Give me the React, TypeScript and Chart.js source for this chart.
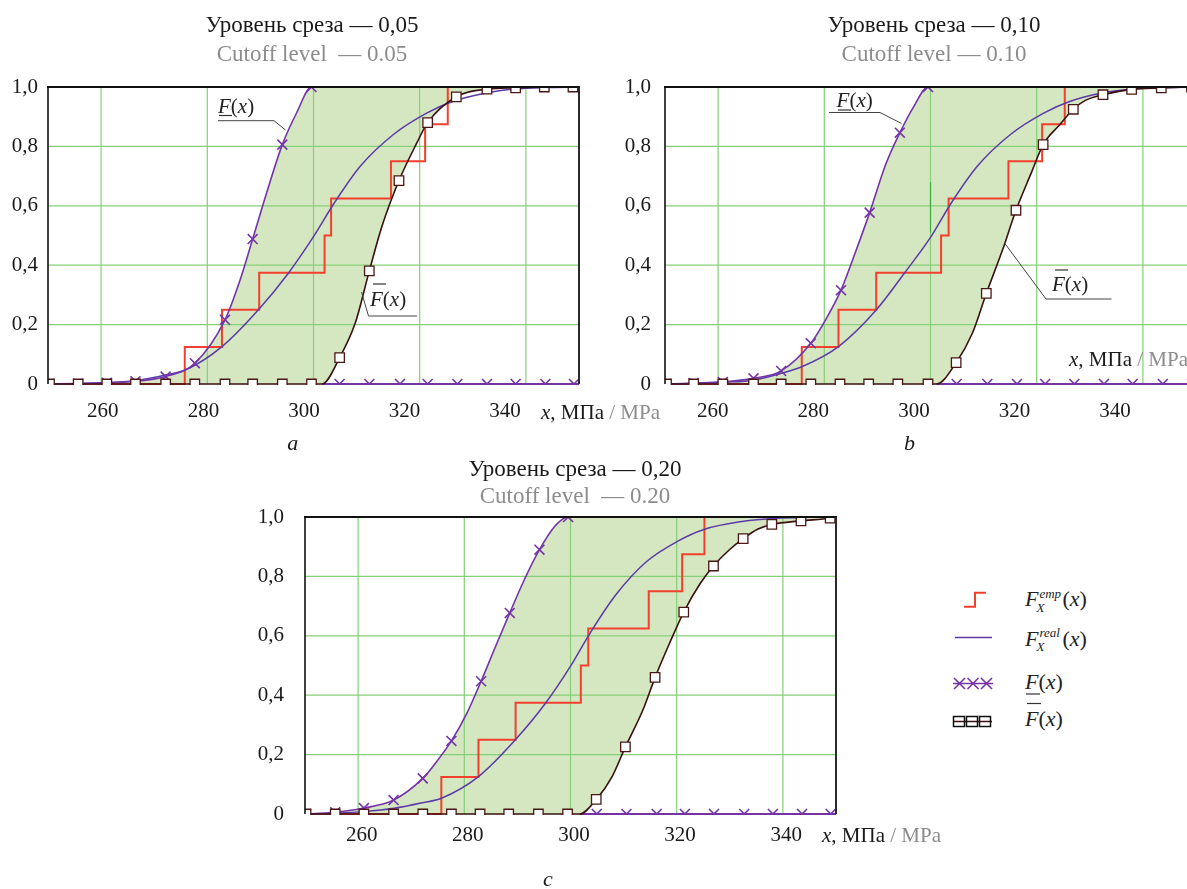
import React, { useEffect, useRef } from 'react';
import { Chart, registerables } from 'chart.js';

Chart.register(...registerables);

const SERIF = '"Liberation Serif", "Times New Roman", serif';
const INK = '#1a1a1a';
const GRAY = '#8c8c8c';
const GRID = '#86cf78';
const FILL = '#d4e7c0';
const RED = '#f2402c';
const PURPLE = '#7434a8';
const REAL = '#5a3aa8';
const MAROON = '#3a1010';
const SQUARE = '#4a1616';

// ---------- shared axis data ----------
const X_TICKS = [260, 280, 300, 320, 340];
const X_TICK_LABELS = ['260', '280', '300', '320', '340'];
const Y_TICKS = [0, 0.2, 0.4, 0.6, 0.8, 1.0];
const Y_TICK_LABELS = ['0', '0,2', '0,4', '0,6', '0,8', '1,0'];
const EMP_LEVELS = [0.125, 0.25, 0.375, 0.5, 0.625, 0.75, 0.875, 1.0];

// ---------- panel a (cutoff 0.05) ----------
const A_RANGE = [249.1, 354.7];
const A_EMP_X = [276.3, 283.7, 291.1, 304.1, 305.4, 317.3, 324.1, 328.6];
const A_REAL_X = [249.1, 255.1, 260.8, 266.5, 272.5, 276.4, 283.7, 290.9, 296.9, 301.9, 305.9, 311.2, 317.8, 324.4, 329.7, 336.0, 342.0, 348.0, 354.7];
const A_REAL_Y = [0, 0.002, 0.005, 0.011, 0.03, 0.047, 0.126, 0.249, 0.373, 0.496, 0.606, 0.733, 0.84, 0.912, 0.952, 0.979, 0.993, 0.998, 1.0];
const A_LOW_MARK_X = [249.4, 255.1, 260.8, 266.5, 272.5, 278.3, 284.3, 289.8, 295.7, 301.5];
const A_LOW_MARK_Y = [0, 0.001, 0.004, 0.009, 0.025, 0.07, 0.216, 0.488, 0.806, 1.0];
const A_LOW_EXTRA_X = [287.3, 292.6, 298.6];
const A_LOW_EXTRA_Y = [0.35, 0.645, 0.915];
const A_TAIL_MARK_X = [307.1, 313.0, 319.1, 324.6, 330.5, 336.4, 342.1, 348.0, 353.7];
const A_TAIL_MARK_Y = [0, 0, 0, 0, 0, 0, 0, 0, 0];
const A_TAIL_EXTRA_X = [303.6, 354.7];
const A_TAIL_EXTRA_Y = [0, 0];
const A_UP_MARK_X = [249.4, 255.1, 260.8, 266.5, 272.5, 278.3, 284.3, 289.8, 295.7, 301.5, 307.1, 313.0, 318.9, 324.6, 330.3, 336.4, 342.1, 347.8, 353.5];
const A_UP_MARK_Y = [0, 0, 0, 0, 0, 0, 0, 0, 0, 0, 0.089, 0.381, 0.685, 0.88, 0.967, 0.993, 0.997, 1.0, 1.0];
const A_UP_EXTRA_X = [303.6, 310.2, 315.5, 322.4, 354.7];
const A_UP_EXTRA_Y = [0, 0.205, 0.53, 0.81, 1.0];

// ---------- panel b (cutoff 0.10) ----------
const B_RANGE = [250.5, 356.1];
const B_EMP_X = [277.7, 285.0, 292.5, 305.4, 306.9, 318.8, 325.5, 330.0];
const B_REAL_X = [250.5, 256.2, 262.0, 268.1, 273.6, 277.7, 285.0, 292.5, 298.1, 303.4, 307.3, 312.6, 319.2, 325.8, 331.1, 337.2, 343.4, 349.4, 356.1];
const B_REAL_Y = [0, 0.002, 0.006, 0.013, 0.036, 0.058, 0.126, 0.249, 0.373, 0.496, 0.606, 0.733, 0.84, 0.912, 0.952, 0.979, 0.993, 0.998, 1.0];
const B_LOW_MARK_X = [250.8, 256.2, 262.0, 268.1, 273.6, 279.5, 285.5, 291.2, 297.2, 302.8];
const B_LOW_MARK_Y = [0, 0.003, 0.007, 0.019, 0.044, 0.137, 0.316, 0.577, 0.846, 1.0];
const B_LOW_EXTRA_X = [282.4, 288.4, 294.4, 300.0];
const B_LOW_EXTRA_Y = [0.215, 0.445, 0.74, 0.935];
const B_TAIL_MARK_X = [308.5, 314.6, 320.5, 326.1, 331.9, 337.8, 343.5, 349.5, 355.3];
const B_TAIL_MARK_Y = [0, 0, 0, 0, 0, 0, 0, 0, 0];
const B_TAIL_EXTRA_X = [304.5, 356.1];
const B_TAIL_EXTRA_Y = [0, 0];
const B_UP_MARK_X = [250.8, 256.2, 262.0, 268.1, 273.6, 279.5, 285.3, 291.0, 296.8, 302.8, 308.4, 314.4, 320.3, 325.7, 331.7, 337.6, 343.3, 349.2, 355.2];
const B_UP_MARK_Y = [0, 0, 0, 0, 0, 0, 0, 0, 0, 0, 0.072, 0.305, 0.585, 0.806, 0.925, 0.974, 0.992, 0.997, 1.0];
const B_UP_EXTRA_X = [304.5, 311.6, 317.6, 323.3, 328.9, 334.1, 356.1];
const B_UP_EXTRA_Y = [0, 0.17, 0.45, 0.709, 0.871, 0.955, 1.0];
const B_MARK_SEGMENT_Y = [0.68, 0.51];

// ---------- panel c (cutoff 0.20) ----------
const C_RANGE = [249.3, 349.4];
const C_EMP_X = [275.0, 282.0, 289.0, 301.3, 302.7, 314.1, 320.4, 324.6];
const C_REAL_X = [249.3, 255.0, 260.4, 266.1, 271.5, 275.0, 282.0, 289.0, 294.6, 299.3, 302.9, 307.9, 313.7, 319.5, 324.5, 331.7, 338.2, 344.0, 349.4];
const C_REAL_Y = [0, 0.003, 0.008, 0.019, 0.038, 0.053, 0.126, 0.251, 0.372, 0.496, 0.605, 0.738, 0.85, 0.918, 0.958, 0.985, 0.996, 0.999, 1.0];
const C_LOW_MARK_X = [249.5, 255.0, 260.4, 266.0, 271.5, 276.9, 282.5, 287.9, 293.5, 298.9];
const C_LOW_MARK_Y = [0, 0.006, 0.02, 0.047, 0.12, 0.246, 0.447, 0.677, 0.89, 1.0];
const C_LOW_EXTRA_X = [274.1, 279.8, 285.2, 290.6, 296.4];
const C_LOW_EXTRA_Y = [0.176, 0.339, 0.563, 0.787, 0.969];
const C_TAIL_MARK_X = [304.3, 309.9, 315.6, 320.9, 326.4, 332.1, 337.5, 343.0, 348.4];
const C_TAIL_MARK_Y = [0, 0, 0, 0, 0, 0, 0, 0, 0];
const C_TAIL_EXTRA_X = [301.1, 349.4];
const C_TAIL_EXTRA_Y = [0, 0];
const C_UP_MARK_X = [249.5, 255.0, 260.4, 266.0, 271.5, 276.9, 282.3, 287.7, 293.3, 298.8, 304.2, 309.7, 315.3, 320.7, 326.3, 331.9, 337.3, 342.8, 348.3];
const C_UP_MARK_Y = [0, 0, 0, 0, 0, 0, 0, 0, 0, 0, 0.049, 0.226, 0.46, 0.68, 0.835, 0.927, 0.975, 0.987, 0.996];
const C_UP_EXTRA_X = [301.1, 307.2, 313.0, 318.0, 323.8, 329.2, 334.6, 349.4];
const C_UP_EXTRA_Y = [0, 0.126, 0.35, 0.574, 0.776, 0.888, 0.959, 1.0];

// ---------- texts ----------
const TITLE_A = 'Уровень среза — 0,05';
const SUBTITLE_A = 'Cutoff level  — 0.05';
const TITLE_B = 'Уровень среза — 0,10';
const SUBTITLE_B = 'Cutoff level — 0.10';
const TITLE_C = 'Уровень среза — 0,20';
const SUBTITLE_C = 'Cutoff level  — 0.20';
const UNIT_RU = ', МПа ';
const UNIT_EN = '/ MPa';

const GRID_FRACTIONS = [0.1, 0.3, 0.5, 0.7, 0.9];

type Pt = { x: number; y: number };
function pts(xs: number[], ys: number[]): Pt[] {
  return xs.map((x, i) => ({ x, y: ys[i] }));
}
function merged(ax: number[], ay: number[], bx: number[], by: number[]): Pt[] {
  return [...pts(ax, ay), ...pts(bx, by)].sort((p, q) => p.x - q.x);
}

interface PanelCfg {
  left: number; top: number; width: number; height: number;
  padTop: number; padRight: number; yAxisW: number; xAxisH: number;
  xTickPad: number; yTickPad: number;
  range: number[]; empX: number[]; realX: number[]; realY: number[];
  lowMarkX: number[]; lowMarkY: number[]; lowExtraX: number[]; lowExtraY: number[];
  tailMarkX: number[]; tailMarkY: number[]; tailExtraX: number[]; tailExtraY: number[];
  upMarkX: number[]; upMarkY: number[]; upExtraX: number[]; upExtraY: number[];
  markSegY?: number[];
}

const PANEL_A: PanelCfg = {
  left: 0, top: 0, width: 600, height: 440, padTop: 87, padRight: 21, yAxisW: 48, xAxisH: 56,
  xTickPad: 15, yTickPad: 10, range: A_RANGE, empX: A_EMP_X, realX: A_REAL_X, realY: A_REAL_Y,
  lowMarkX: A_LOW_MARK_X, lowMarkY: A_LOW_MARK_Y, lowExtraX: A_LOW_EXTRA_X, lowExtraY: A_LOW_EXTRA_Y,
  tailMarkX: A_TAIL_MARK_X, tailMarkY: A_TAIL_MARK_Y, tailExtraX: A_TAIL_EXTRA_X, tailExtraY: A_TAIL_EXTRA_Y,
  upMarkX: A_UP_MARK_X, upMarkY: A_UP_MARK_Y, upExtraX: A_UP_EXTRA_X, upExtraY: A_UP_EXTRA_Y,
};
const PANEL_B: PanelCfg = {
  left: 595, top: 0, width: 610, height: 440, padTop: 87, padRight: 9, yAxisW: 70, xAxisH: 56,
  xTickPad: 15, yTickPad: 14, range: B_RANGE, empX: B_EMP_X, realX: B_REAL_X, realY: B_REAL_Y,
  lowMarkX: B_LOW_MARK_X, lowMarkY: B_LOW_MARK_Y, lowExtraX: B_LOW_EXTRA_X, lowExtraY: B_LOW_EXTRA_Y,
  tailMarkX: B_TAIL_MARK_X, tailMarkY: B_TAIL_MARK_Y, tailExtraX: B_TAIL_EXTRA_X, tailExtraY: B_TAIL_EXTRA_Y,
  upMarkX: B_UP_MARK_X, upMarkY: B_UP_MARK_Y, upExtraX: B_UP_EXTRA_X, upExtraY: B_UP_EXTRA_Y,
  markSegY: B_MARK_SEGMENT_Y,
};
const PANEL_C: PanelCfg = {
  left: 250, top: 440, width: 600, height: 449, padTop: 77, padRight: 14, yAxisW: 55, xAxisH: 75,
  xTickPad: 9, yTickPad: 21, range: C_RANGE, empX: C_EMP_X, realX: C_REAL_X, realY: C_REAL_Y,
  lowMarkX: C_LOW_MARK_X, lowMarkY: C_LOW_MARK_Y, lowExtraX: C_LOW_EXTRA_X, lowExtraY: C_LOW_EXTRA_Y,
  tailMarkX: C_TAIL_MARK_X, tailMarkY: C_TAIL_MARK_Y, tailExtraX: C_TAIL_EXTRA_X, tailExtraY: C_TAIL_EXTRA_Y,
  upMarkX: C_UP_MARK_X, upMarkY: C_UP_MARK_Y, upExtraX: C_UP_EXTRA_X, upExtraY: C_UP_EXTRA_Y,
};

function gridFramePlugin(c: PanelCfg) {
  return {
    id: 'gridFrame',
    beforeDatasetsDraw(chart: any) {
      const { ctx, chartArea: a, scales } = chart;
      ctx.save();
      ctx.strokeStyle = GRID;
      ctx.lineWidth = 1.2;
      ctx.beginPath();
      for (const v of Y_TICKS) {
        if (v <= 0 || v >= 1) continue;
        const py = scales.y.getPixelForValue(v);
        ctx.moveTo(a.left, py);
        ctx.lineTo(a.right, py);
      }
      for (const f of GRID_FRACTIONS) {
        const px = a.left + f * (a.right - a.left);
        ctx.moveTo(px, a.top);
        ctx.lineTo(px, a.bottom);
      }
      ctx.stroke();
      if (c.markSegY) {
        const px = a.left + 0.5 * (a.right - a.left);
        ctx.strokeStyle = '#3fae3f';
        ctx.lineWidth = 1.2;
        ctx.beginPath();
        ctx.moveTo(px, scales.y.getPixelForValue(c.markSegY[0]));
        ctx.lineTo(px, scales.y.getPixelForValue(c.markSegY[1]));
        ctx.stroke();
      }
      ctx.restore();
    },
    afterDatasetsDraw(chart: any) {
      const { ctx, chartArea: a } = chart;
      ctx.save();
      ctx.strokeStyle = '#111';
      ctx.lineWidth = 2;
      ctx.beginPath();
      ctx.moveTo(a.left - 1, a.top);
      ctx.lineTo(a.right + 1, a.top);
      ctx.stroke();
      ctx.lineWidth = 1.6;
      ctx.beginPath();
      ctx.moveTo(a.left, a.top);
      ctx.lineTo(a.left, a.bottom);
      ctx.stroke();
      ctx.strokeStyle = '#2a2a2a';
      ctx.lineWidth = 2;
      ctx.beginPath();
      ctx.moveTo(a.right, a.top);
      ctx.lineTo(a.right, a.bottom);
      ctx.stroke();
      ctx.restore();
    },
  };
}

function buildConfig(c: PanelCfg): any {
  const upMarks = pts(c.upMarkX, c.upMarkY);
  const upLine = merged(c.upMarkX, c.upMarkY, c.upExtraX, c.upExtraY);
  const lowMarks = [...pts(c.lowMarkX, c.lowMarkY), ...pts(c.tailMarkX, c.tailMarkY)];
  const lowLine = [...merged(c.lowMarkX, c.lowMarkY, c.lowExtraX, c.lowExtraY), { x: c.range[1], y: 1 }];
  const tailLine = merged(c.tailMarkX, c.tailMarkY, c.tailExtraX, c.tailExtraY);
  const realLine = pts(c.realX, c.realY);
  const empLine = [{ x: c.range[0], y: 0 }, ...pts(c.empX, EMP_LEVELS), { x: c.range[1], y: 1 }];
  const clip = { left: 0, top: 0, right: 0, bottom: 1 };
  const base = { pointRadius: 0, clip, fill: false };
  const tickFont = { family: SERIF, size: 21 };
  return {
    type: 'line',
    data: {
      datasets: [
        { ...base, data: upMarks, showLine: false, pointRadius: 6.7, pointStyle: 'rect', borderColor: SQUARE, pointBorderColor: SQUARE, pointBackgroundColor: '#ffffff', pointBorderWidth: 1.3 },
        { ...base, data: lowMarks, showLine: false, pointRadius: 7, pointStyle: 'crossRot', borderColor: PURPLE, pointBorderColor: PURPLE, pointBorderWidth: 1.6 },
        { ...base, data: upLine, borderColor: MAROON, borderWidth: 1.6, cubicInterpolationMode: 'monotone' },
        { ...base, data: lowLine, borderColor: PURPLE, borderWidth: 1.6, cubicInterpolationMode: 'monotone', fill: { target: 2, above: FILL, below: FILL }, backgroundColor: FILL },
        { ...base, data: tailLine, borderColor: PURPLE, borderWidth: 2 },
        { ...base, data: realLine, borderColor: REAL, borderWidth: 1.5, cubicInterpolationMode: 'monotone' },
        { ...base, data: empLine, borderColor: RED, borderWidth: 2, stepped: 'before' },
      ],
    },
    options: {
      responsive: false,
      animation: false,
      devicePixelRatio: 1,
      events: [],
      layout: { padding: { top: c.padTop, right: c.padRight, left: 0, bottom: 0 } },
      scales: {
        x: {
          type: 'linear', min: c.range[0], max: c.range[1],
          afterBuildTicks: (s: any) => { s.ticks = X_TICKS.map((v) => ({ value: v })); },
          afterFit: (s: any) => { s.height = c.xAxisH; },
          grid: { display: false, drawTicks: false },
          border: { display: false },
          ticks: { padding: c.xTickPad, font: tickFont, color: INK, maxRotation: 0, autoSkip: false, callback: (_v: any, i: number) => X_TICK_LABELS[i] },
        },
        y: {
          type: 'linear', min: 0, max: 1,
          afterBuildTicks: (s: any) => { s.ticks = Y_TICKS.map((v) => ({ value: v })); },
          afterFit: (s: any) => { s.width = c.yAxisW; },
          grid: { display: false, drawTicks: false },
          border: { display: false },
          ticks: { padding: c.yTickPad, font: tickFont, color: INK, autoSkip: false, callback: (_v: any, i: number) => Y_TICK_LABELS[i] },
        },
      },
      plugins: {
        legend: { display: false },
        tooltip: { enabled: false },
        filler: { drawTime: 'beforeDatasetsDraw' },
      },
    },
    plugins: [gridFramePlugin(c)],
  };
}

function Panel({ cfg }: { cfg: PanelCfg }) {
  const ref = useRef<HTMLCanvasElement | null>(null);
  useEffect(() => {
    const canvas = ref.current;
    if (!canvas) return;
    const chart = new Chart(canvas, buildConfig(cfg));
    return () => chart.destroy();
  }, [cfg]);
  return (
    <canvas
      ref={ref}
      width={cfg.width}
      height={cfg.height}
      style={{ position: 'absolute', left: cfg.left, top: cfg.top, width: cfg.width, height: cfg.height }}
    />
  );
}

function Title({ cx, baseline, text, color }: { cx: number; baseline: number; text: string; color: string }) {
  return (
    <div style={{ position: 'absolute', left: cx, top: baseline - 19.3, transform: 'translateX(-50%)', fontSize: 23, lineHeight: 1, whiteSpace: 'pre', color }}>
      {text}
    </div>
  );
}

function AxisUnit({ left, baseline }: { left: number; baseline: number }) {
  return (
    <div style={{ position: 'absolute', left, top: baseline - 17.6, fontSize: 21, lineHeight: 1, whiteSpace: 'pre', color: INK }}>
      <i>x</i>{UNIT_RU}<span style={{ color: GRAY }}>{UNIT_EN}</span>
    </div>
  );
}

function Caption({ cx, baseline, text }: { cx: number; baseline: number; text: string }) {
  return (
    <div style={{ position: 'absolute', left: cx, top: baseline - 18.4, transform: 'translateX(-50%)', fontSize: 22, lineHeight: 1, fontStyle: 'italic', color: INK }}>
      {text}
    </div>
  );
}

function FxLabel({ left, baseline, size, sup }: { left: number; baseline: number; size: number; sup?: string }) {
  const k = size * 0.8375;
  return (
    <div style={{ position: 'absolute', left, top: baseline - k, fontSize: size, lineHeight: 1, whiteSpace: 'nowrap', color: '#222' }}>
      <i>F</i>
      {sup ? (
        <span style={{ position: 'relative', display: 'inline-block', width: 24, height: 0 }}>
          <span style={{ position: 'absolute', left: 1, bottom: 6.5, fontSize: 13, lineHeight: 1, fontStyle: 'italic' }}>{sup}</span>
          <span style={{ position: 'absolute', left: -2, bottom: -7.5, fontSize: 13, lineHeight: 1, fontStyle: 'italic' }}>X</span>
        </span>
      ) : null}
      <span>(</span><i>x</i><span>)</span>
    </div>
  );
}

export default function App() {
  return (
    <div style={{ position: 'absolute', left: 0, top: 0, width: 1187, height: 889, overflow: 'hidden', background: '#ffffff', fontFamily: SERIF, color: INK }}>
      <Panel cfg={PANEL_A} />
      <Panel cfg={PANEL_B} />
      <Panel cfg={PANEL_C} />

      <Title cx={312} baseline={32.3} text={TITLE_A} color={INK} />
      <Title cx={312} baseline={61} text={SUBTITLE_A} color={GRAY} />
      <Title cx={934} baseline={32.3} text={TITLE_B} color={INK} />
      <Title cx={934} baseline={61} text={SUBTITLE_B} color={GRAY} />
      <Title cx={575} baseline={476} text={TITLE_C} color={INK} />
      <Title cx={575} baseline={503.3} text={SUBTITLE_C} color={GRAY} />

      <AxisUnit left={541} baseline={419.3} />
      <AxisUnit left={1069} baseline={366.7} />
      <AxisUnit left={822} baseline={842.7} />

      <Caption cx={292.8} baseline={450.7} text="a" />
      <Caption cx={909.5} baseline={450.7} text="b" />
      <Caption cx={548} baseline={886} text="c" />

      <FxLabel left={218} baseline={113.5} size={21} />
      <FxLabel left={370} baseline={306.7} size={21} />
      <FxLabel left={836.6} baseline={107.8} size={21} />
      <FxLabel left={1052} baseline={291.7} size={21} />

      <FxLabel left={1025} baseline={606.7} size={22} sup="emp" />
      <FxLabel left={1025} baseline={646} size={22} sup="real" />
      <FxLabel left={1025} baseline={689} size={22} />
      <FxLabel left={1025} baseline={726.7} size={22} />

      <svg width={1187} height={889} style={{ position: 'absolute', left: 0, top: 0, pointerEvents: 'none' }}>
        <g fill="none" stroke="#444" strokeWidth={1}>
          <polyline points="218,120.7 274,120.7 285.5,130" />
          <polyline points="417,316 368.5,316 361.5,292" />
          <polyline points="829,112.5 880,112.5 901.5,123.5" />
          <polyline points="1111.5,299 1046,299 1004.5,243" />
        </g>
        <g stroke="#333" strokeWidth={1.2}>
          <line x1={219} y1={115.5} x2={232} y2={115.5} />
          <line x1={373} y1={284} x2={386} y2={284} />
          <line x1={838} y1={110} x2={851} y2={110} />
          <line x1={1055} y1={270} x2={1068} y2={270} />
          <line x1={1026} y1={694} x2={1040} y2={694} />
          <line x1={1027} y1={703.5} x2={1041} y2={703.5} />
        </g>
        <polyline points="964,606.7 975,606.7 975,592.7 986,592.7" fill="none" stroke={RED} strokeWidth={2} />
        <line x1={955} y1={637.5} x2={992} y2={637.5} stroke={REAL} strokeWidth={1.6} />
        <line x1={953} y1={683.5} x2={993} y2={683.5} stroke={PURPLE} strokeWidth={1.6} />
        <g stroke={PURPLE} strokeWidth={1.6}>
          {[959.5, 973, 986.5].map((cx) => (
            <g key={cx}>
              <line x1={cx - 5.5} y1={683.5 - 5.5} x2={cx + 5.5} y2={683.5 + 5.5} />
              <line x1={cx - 5.5} y1={683.5 + 5.5} x2={cx + 5.5} y2={683.5 - 5.5} />
            </g>
          ))}
        </g>
        <line x1={953} y1={721.5} x2={992} y2={721.5} stroke={MAROON} strokeWidth={1.6} />
        <g stroke="#111" strokeWidth={1.5} fill="none">
          {[959, 972, 985].map((cx) => (
            <rect key={cx} x={cx - 5.5} y={716.5} width={11} height={10} />
          ))}
        </g>
      </svg>
    </div>
  );
}
